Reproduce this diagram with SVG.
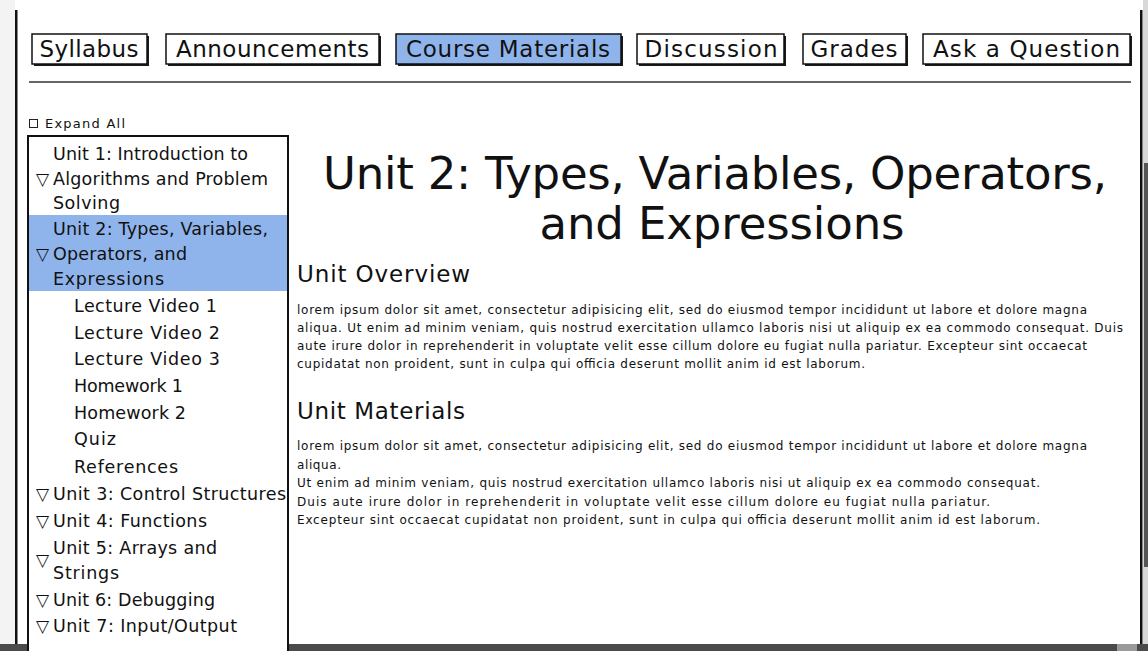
<svg xmlns="http://www.w3.org/2000/svg" width="1148" height="651" viewBox="0 0 1148 651">
<style>
text{font-family:"DejaVu Sans","Liberation Sans",sans-serif;fill:#111}
.tab{fill:#fff;stroke:#111;stroke-width:1.5}
.tabsel{fill:#8fb4ec;stroke:#111;stroke-width:1.5}
.sh{fill:#1a1a1a}
.tabt{font-size:23px;text-anchor:middle}
.tree{font-size:17.5px}
.tri{font-size:17px}
.para{font-size:12px}
.hdr{font-size:23px}
.title{font-size:45px;text-anchor:middle}
</style>
<rect width="1148" height="651" fill="#fff"/>
<g id="chrome">
<rect x="0" y="0" width="15" height="644" fill="#f3f3f3"/>
<rect x="15" y="10" width="2.5" height="634" fill="#111"/>
<rect x="1140" y="10" width="2.5" height="634" fill="#111"/>
<rect x="1143" y="0" width="5" height="644" fill="#d8d8d8"/>
<rect x="1144" y="163" width="4" height="404" fill="#555"/>
<rect x="0" y="644" width="1148" height="7" fill="#4a4a4a"/>
<rect x="1117" y="644" width="20" height="7" fill="#9a9a9a"/>
</g>
<g id="tab-syllabus">
<rect class="sh" x="34" y="36" width="115" height="30"/>
<rect class="tab" x="32" y="34" width="115" height="30"/>
<text class="tabt" x="89" y="57" textLength="99">Syllabus</text>
</g>
<g id="tab-announcements">
<rect class="sh" x="168" y="36" width="213" height="30"/>
<rect class="tab" x="166" y="34" width="213" height="30"/>
<text class="tabt" x="272.5" y="57" textLength="193">Announcements</text>
</g>
<g id="tab-course-materials">
<rect class="sh" x="398" y="36" width="225" height="30"/>
<rect class="tabsel" x="396" y="34" width="225" height="30"/>
<text class="tabt" x="508" y="57" textLength="204">Course Materials</text>
</g>
<g id="tab-discussion">
<rect class="sh" x="639" y="36" width="147" height="30"/>
<rect class="tab" x="637" y="34" width="147" height="30"/>
<text class="tabt" x="711" y="57" textLength="133">Discussion</text>
</g>
<g id="tab-grades">
<rect class="sh" x="805" y="36" width="103" height="30"/>
<rect class="tab" x="803" y="34" width="103" height="30"/>
<text class="tabt" x="854" y="57" textLength="87">Grades</text>
</g>
<g id="tab-ask">
<rect class="sh" x="925" y="36" width="207" height="30"/>
<rect class="tab" x="923" y="34" width="207" height="30"/>
<text class="tabt" x="1026.5" y="57" textLength="187">Ask a Question</text>
</g>
<g id="connectors">
<line x1="29" y1="82" x2="1131" y2="82" stroke="#333" stroke-width="1.5"/>
</g>
<g id="expand-all">
<rect x="29.5" y="119.5" width="8" height="8" fill="#fff" stroke="#222" stroke-width="1"/>
<text x="45" y="128" font-size="13" textLength="80">Expand All</text>
</g>
<g id="sidebar">
<rect x="28" y="136" width="260" height="520" fill="#fff" stroke="#111" stroke-width="2"/>
<rect x="29" y="215" width="258" height="76" fill="#8fb4ec"/>
<text class="tree" x="53" y="160" textLength="195">Unit 1: Introduction to</text>
<text class="tri" x="36" y="185">▽</text>
<text class="tree" x="53" y="185" textLength="215">Algorithms and Problem</text>
<text class="tree" x="53" y="209" textLength="67">Solving</text>
<text class="tree" x="53" y="235" textLength="215">Unit 2: Types, Variables,</text>
<text class="tri" x="36" y="260">▽</text>
<text class="tree" x="53" y="260" textLength="134">Operators, and</text>
<text class="tree" x="53" y="285" textLength="111">Expressions</text>
<text class="tree" x="74" y="312" textLength="143">Lecture Video 1</text>
<text class="tree" x="74" y="339" textLength="146">Lecture Video 2</text>
<text class="tree" x="74" y="365" textLength="146">Lecture Video 3</text>
<text class="tree" x="74" y="392" textLength="109">Homework 1</text>
<text class="tree" x="74" y="419" textLength="112">Homework 2</text>
<text class="tree" x="74" y="445" textLength="42">Quiz</text>
<text class="tree" x="74" y="473" textLength="104">References</text>
<text class="tri" x="36" y="500">▽</text>
<text class="tree" x="53" y="500" textLength="233">Unit 3: Control Structures</text>
<text class="tri" x="36" y="527">▽</text>
<text class="tree" x="53" y="527" textLength="154">Unit 4: Functions</text>
<text class="tree" x="53" y="554" textLength="164">Unit 5: Arrays and</text>
<text class="tri" x="36" y="566">▽</text>
<text class="tree" x="53" y="579" textLength="66">Strings</text>
<text class="tri" x="36" y="606">▽</text>
<text class="tree" x="53" y="606" textLength="162">Unit 6: Debugging</text>
<text class="tri" x="36" y="632">▽</text>
<text class="tree" x="53" y="632" textLength="184">Unit 7: Input/Output</text>
</g>
<g id="title">
<text class="title" x="715" y="189" textLength="784">Unit 2: Types, Variables, Operators,</text>
<text class="title" x="722" y="239" textLength="365">and Expressions</text>
</g>
<g id="overview">
<text class="hdr" x="297" y="282" textLength="173">Unit Overview</text>
<text class="para" x="297" y="314" textLength="790">lorem ipsum dolor sit amet, consectetur adipisicing elit, sed do eiusmod tempor incididunt ut labore et dolore magna</text>
<text class="para" x="297" y="332" textLength="826">aliqua. Ut enim ad minim veniam, quis nostrud exercitation ullamco laboris nisi ut aliquip ex ea commodo consequat. Duis</text>
<text class="para" x="297" y="350" textLength="790">aute irure dolor in reprehenderit in voluptate velit esse cillum dolore eu fugiat nulla pariatur. Excepteur sint occaecat</text>
<text class="para" x="297" y="368" textLength="568">cupidatat non proident, sunt in culpa qui officia deserunt mollit anim id est laborum.</text>
</g>
<g id="materials">
<text class="hdr" x="297" y="419" textLength="168">Unit Materials</text>
<text class="para" x="297" y="450" textLength="790">lorem ipsum dolor sit amet, consectetur adipisicing elit, sed do eiusmod tempor incididunt ut labore et dolore magna</text>
<text class="para" x="297" y="469" textLength="44">aliqua.</text>
<text class="para" x="297" y="487" textLength="743">Ut enim ad minim veniam, quis nostrud exercitation ullamco laboris nisi ut aliquip ex ea commodo consequat.</text>
<text class="para" x="297" y="506" textLength="693">Duis aute irure dolor in reprehenderit in voluptate velit esse cillum dolore eu fugiat nulla pariatur.</text>
<text class="para" x="297" y="524" textLength="743">Excepteur sint occaecat cupidatat non proident, sunt in culpa qui officia deserunt mollit anim id est laborum.</text>
</g>
</svg>
